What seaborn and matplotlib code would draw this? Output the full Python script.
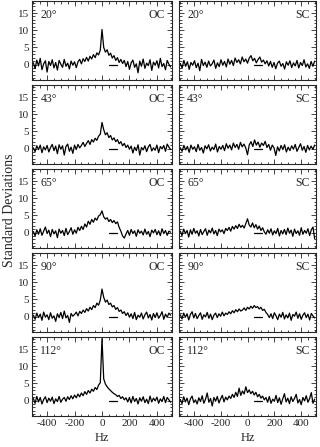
import numpy as np
import matplotlib
matplotlib.use("Agg")
import matplotlib.pyplot as plt
from matplotlib.ticker import MultipleLocator
import seaborn as sns

angles = ["20°", "43°", "65°", "90°", "112°"]
conditions = ["OC", "SC"]
x_ticks = [-400, -200, 0, 200, 400]
y_ticks = [0, 5, 10, 15]
dash_hz = [50, 110]
dash_sd = [0, 0]

oc_20 = [0.5,-1.2,1.3,-0.4,1.8,-1.5,0.2,1.1,-2.2,0.9,-0.3,1.4,-1.0,0.6,-1.6,1.2,0.1,-0.8,1.5,-0.5,0.4,-1.3,1.0,-0.2,0.8,-0.9,
         0.8,1.5,0.2,1.7,0.9,2.1,1.0,2.4,1.6,2.9,2.0,3.4,2.8,4.2,
         10.2,
         5.0,3.6,4.3,2.7,3.3,1.9,2.6,1.2,2.0,0.6,1.5,0.3,
         1.2,-0.6,0.9,-1.4,0.5,1.3,-0.8,0.2,-2.4,1.0,-0.5,1.6,-1.1,0.4,-0.3,1.4,-1.7,0.7,-0.2,1.1,-1.0,1.8,-0.6,0.3,-1.5,1.2,0.1,-0.7]
sc_20 = [0.3,-1.0,1.2,-0.5,0.8,-1.4,0.6,-0.2,1.1,-0.9,0.4,-1.8,1.5,-0.3,0.7,-0.8,1.0,-0.4,0.2,1.3,-1.1,0.5,-0.6,1.4,-0.2,0.9,
         -0.7,1.6,0.1,1.2,-0.3,1.9,0.6,1.4,0.2,2.2,0.8,1.6,0.4,1.9,2.6,1.1,1.8,0.5,1.5,2.2,0.7,1.3,0.2,1.1,-0.4,0.9,
         -0.8,0.6,-1.2,0.4,1.0,-0.5,0.3,-1.3,0.8,-0.2,1.1,-0.9,0.5,-0.4,1.2,-1.0,0.6,-0.3,1.4,-0.7,0.2,-1.1,0.9,-0.5,1.0]
oc_43 = [0.2,-0.9,0.8,-0.3,1.0,-1.2,0.5,-0.4,0.9,-1.0,0.3,1.2,-0.6,0.7,-1.5,1.1,-0.2,0.8,-1.9,0.6,1.3,-0.8,0.4,-1.4,1.0,-0.3,1.2,0.2,
         0.9,1.8,0.6,1.5,2.3,1.2,2.6,1.9,3.0,2.4,3.6,4.2,
         7.6,
         5.5,4.0,4.6,3.2,3.8,2.5,3.1,2.0,2.6,1.4,2.0,0.8,1.5,0.3,1.0,-0.2,
         0.7,-1.3,0.4,-0.6,1.1,-1.9,0.3,-0.4,0.8,-0.9,0.5,1.2,-0.7,0.2,-0.5,1.0,-1.2,0.6,-0.1,0.9,-0.8,1.3,0.4,-0.3]
sc_43 = [0.2,-0.8,0.9,-0.4,0.6,-1.1,1.0,-0.2,0.5,-0.9,1.2,-0.5,0.3,-1.3,0.8,-0.1,1.1,-0.7,0.4,-0.3,1.3,-1.0,0.6,-0.2,0.9,-0.6,
         1.4,0.1,1.0,-0.4,1.6,0.3,1.2,-0.2,1.8,0.5,1.3,0.2,-1.8,1.1,2.0,0.6,2.5,1.0,1.9,0.4,1.6,0.9,2.1,0.3,1.2,-0.5,1.0,0.2,
         -2.0,0.5,-0.7,0.9,-0.3,1.1,-1.0,0.4,-0.6,0.8,-0.2,1.2,-0.8,0.3,1.4,-0.5,0.6,-1.1,0.9,-0.4,0.7,-0.2,1.0]
oc_65 = [0.3,-1.0,0.8,-0.5,1.1,-0.8,0.4,1.6,-0.3,0.7,-1.2,0.9,-0.4,0.5,-1.5,1.0,-0.2,0.6,-0.9,1.2,-0.6,0.3,1.4,-0.5,0.8,-0.2,1.5,0.6,
         1.8,0.9,2.5,1.6,3.3,2.4,3.8,3.0,4.2,3.6,4.8,5.2,
         6.3,
         4.6,3.9,4.3,3.2,3.8,2.9,3.5,2.6,3.1,1.5,0.4,
         -1.0,-1.6,-0.4,0.6,-0.8,0.9,-0.3,0.5,-1.1,0.8,-0.2,0.4,-0.7,1.0,-0.5,0.3,-1.2,0.7,-0.1,0.9,-0.6,0.5,-0.9,1.1,-0.3,0.6,-0.8,0.4,0.1]
sc_65 = [0.4,-0.9,1.0,-0.3,0.6,-1.3,0.8,-0.5,1.2,-0.2,0.5,-1.0,0.9,-0.6,0.3,1.1,-0.8,0.7,-0.1,1.3,-0.4,0.6,-0.9,1.0,0.2,0.8,-0.3,1.2,
         0.6,1.5,0.4,1.8,1.0,2.0,1.2,2.4,1.5,2.1,1.3,2.6,
         4.0,
         2.2,1.6,2.8,1.4,2.3,1.0,1.9,0.6,1.4,0.2,
         -0.5,0.8,-0.2,1.1,-0.7,0.5,-0.3,1.2,-1.0,0.6,-0.4,0.9,-0.6,1.3,-0.2,0.7,-1.1,1.0,-0.3,0.5,-0.8,1.4,-0.5,0.6,-0.2,1.1,-0.9,0.8,1.6,-1.8]
oc_90 = [0.4,-0.8,1.0,-0.3,0.7,-1.1,1.3,-0.2,0.5,-0.9,1.1,-0.5,0.2,-1.4,0.8,-0.3,1.2,-0.6,1.6,-0.4,0.3,-1.7,0.9,0.1,
         0.6,1.3,0.2,1.5,0.9,1.9,1.2,2.3,1.6,2.7,2.0,3.2,2.6,3.9,3.3,4.8,
         8.0,
         5.6,4.2,4.8,3.5,3.9,2.8,3.2,2.1,2.6,1.5,1.9,0.9,1.4,0.3,1.1,-0.2,
         0.8,-0.6,1.2,-0.9,0.4,-0.2,1.0,-0.7,0.5,1.3,-0.4,0.6,-1.0,0.9,-0.3,1.1,-0.5,0.3,1.4,-0.8,0.7,-0.2,1.0,0.4]
sc_90 = [0.5,-0.7,1.0,-0.2,0.8,-1.0,0.6,1.4,-0.4,0.9,-0.6,0.3,1.1,-0.8,0.5,-0.1,1.2,-0.5,0.7,-0.9,0.4,1.0,-0.3,0.8,0.1,1.3,0.2,1.0,0.6,1.4,
         0.8,1.7,1.1,2.0,1.4,2.2,1.6,1.9,2.5,1.8,2.7,2.2,3.0,2.4,3.2,2.6,2.9,2.2,2.7,1.8,2.1,1.2,0.6,
         -0.3,0.8,-0.6,1.1,0.2,-0.9,0.7,-0.2,1.2,-0.7,0.5,-0.4,1.0,-1.1,0.6,0.1,1.3,-0.5,0.8,-0.8,0.4,1.1,-0.3,0.7,-1.0,0.9,0.2,-0.4]
oc_112 = [0.6,-0.8,1.2,-0.4,0.9,-1.0,0.3,1.1,-0.6,0.7,-0.2,1.0,-0.9,0.5,-0.3,1.2,-0.5,0.4,
          0.9,-0.2,1.1,0.3,1.4,0.5,1.6,0.8,1.9,1.1,2.2,1.4,2.6,1.8,2.9,2.2,3.3,2.7,3.8,3.2,4.5,5.2,
          18.0,
          6.3,4.8,4.0,3.4,2.9,2.4,2.0,1.7,1.2,1.5,0.6,1.1,0.2,0.8,
          -0.4,0.9,-0.7,1.2,-0.3,0.6,-1.0,0.8,-0.2,1.1,-0.6,0.4,-0.9,1.3,-0.4,0.7,-0.1,1.0,-0.8,0.5,-0.3,1.2,-0.6,0.9,0.2,-0.5]
sc_112 = [0.3,-0.9,1.1,-0.4,0.7,-1.2,0.5,1.3,-0.6,0.2,-1.0,0.8,-0.3,1.4,-0.8,0.4,2.2,-0.5,0.6,-1.6,0.9,-0.2,1.2,-0.7,0.5,1.5,-0.4,1.0,0.2,1.3,
          0.6,1.8,0.9,2.4,1.2,3.6,1.5,2.8,1.9,4.0,2.3,3.1,2.0,2.7,1.6,2.4,1.1,1.8,0.7,1.3,0.2,
          0.9,-0.5,1.2,-0.8,0.4,-0.2,1.5,-0.6,0.8,-1.1,0.5,2.0,-0.4,0.7,-0.9,1.1,-0.3,0.6,1.8,-0.7,0.3,-1.2,0.9,-0.1,1.4,-0.5,0.6,2.3,-0.8,0.4]

series = {
    ("20°", "OC"): oc_20, ("20°", "SC"): sc_20,
    ("43°", "OC"): oc_43, ("43°", "SC"): sc_43,
    ("65°", "OC"): oc_65, ("65°", "SC"): sc_65,
    ("90°", "OC"): oc_90, ("90°", "SC"): sc_90,
    ("112°", "OC"): oc_112, ("112°", "SC"): sc_112,
}

sns.set_style("ticks")
plt.rcParams['font.family'] = ['Liberation Serif', 'DejaVu Serif']

W, H = 320, 447
fig = plt.figure(figsize=(W / 100, H / 100), dpi=100)

col_left = [32, 179]
col_width = [140, 137]
row_h = 79
row_tops = [1, 85, 169, 253, 337]

for r, ang in enumerate(angles):
    for c, cond in enumerate(conditions):
        ax = fig.add_axes([col_left[c] / W, 1 - (row_tops[r] + row_h) / H,
                           col_width[c] / W, row_h / H])
        y = np.array(series[(ang, cond)])
        x = np.linspace(-500, 500, len(y))
        sns.lineplot(x=x, y=y, ax=ax, color='black', linewidth=0.9)
        ax.plot(dash_hz, dash_sd, color='black', linewidth=0.9)
        ax.set_xlim(-510, 510)
        ax.set_ylim(-4.5, 18.5)
        ax.set_xticks(x_ticks)
        ax.set_yticks(y_ticks)
        ax.xaxis.set_minor_locator(MultipleLocator(50))
        ax.yaxis.set_minor_locator(MultipleLocator(1))
        ax.tick_params(which='both', direction='in', top=True, right=True,
                       labelsize=8, width=0.6, pad=2)
        ax.tick_params(which='major', length=3.5)
        ax.tick_params(which='minor', length=1.8)
        for s in ax.spines.values():
            s.set_linewidth(0.8)
            s.set_visible(True)
        if c == 1:
            ax.set_yticklabels([])
        if r < len(angles) - 1:
            ax.set_xticklabels([])
        else:
            ax.set_xticklabels([str(t) for t in x_ticks])
        ax.set_xlabel('')
        ax.set_ylabel('')
        ax.text(0.06, 0.9, ang, transform=ax.transAxes, ha='left', va='top', fontsize=8.5)
        ax.text(0.95, 0.9, cond, transform=ax.transAxes, ha='right', va='top', fontsize=8.5)

fig.text(10 / W, 1 - 210 / H, 'Standard Deviations', rotation=90, ha='center', va='center', fontsize=10)
fig.text((col_left[0] + col_width[0] / 2) / W, 1 - 438 / H, 'Hz', ha='center', va='center', fontsize=9)
fig.text((col_left[1] + col_width[1] / 2) / W, 1 - 438 / H, 'Hz', ha='center', va='center', fontsize=9)

fig.savefig('out.png', dpi=100)
